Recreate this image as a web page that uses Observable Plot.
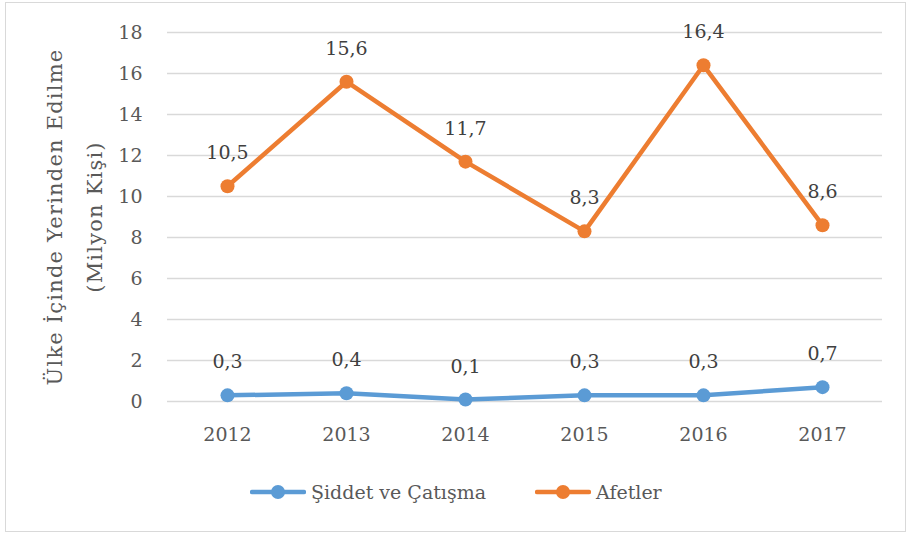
<!DOCTYPE html>
<html><head><meta charset="utf-8">
<script src="https://cdn.jsdelivr.net/npm/d3@7"></script>
<script src="https://cdn.jsdelivr.net/npm/@observablehq/plot@0.6"></script>
<style>
body{margin:0;background:#fff;width:908px;height:534px;overflow:hidden;}
#frame{position:absolute;left:5px;top:2px;width:901px;height:530px;border:1px solid #d9d9d9;box-sizing:border-box;}
#chart{position:absolute;left:0;top:0;}
#legend{position:absolute;left:0;top:476px;width:908px;height:32px;font-family:'DejaVu Serif',serif;font-size:19px;color:#595959;}
.item{position:absolute;top:0;display:flex;align-items:center;height:32px;}
.item svg{margin-right:5px;}
</style></head>
<body>
<div id="frame"></div>
<div id="chart"></div>
<div id="legend"></div>
<script>
const years = ["2012","2013","2014","2015","2016","2017"];
const siddetCatisma = [0.3,0.4,0.1,0.3,0.3,0.7];
const afetler = [10.5,15.6,11.7,8.3,16.4,8.6];
const seriesNames = ["Şiddet ve Çatışma","Afetler"];
const seriesColors = ["#5B9BD5","#ED7D31"];
const yTicks = [0,2,4,6,8,10,12,14,16,18];
const yTitle = ["Ülke İçinde Yerinden Edilme","(Milyon Kişi)"];

const data = [
  ...years.map((y,i)=>({year:y,value:siddetCatisma[i],series:seriesNames[0]})),
  ...years.map((y,i)=>({year:y,value:afetler[i],series:seriesNames[1]}))
];
const fmt = v => String(v).replace(".", ",");
const FONT = "'DejaVu Serif', serif";

const chart = Plot.plot({
  width:908, height:460,
  marginLeft:167, marginRight:26, marginTop:32, marginBottom:59,
  style:{fontFamily:FONT, fontSize:"19px", color:"#595959", background:"transparent", overflow:"visible"},
  x:{type:"point", domain:years, padding:0.5},
  y:{domain:[0,18]},
  color:{domain:seriesNames, range:seriesColors},
  marks:[
    Plot.gridY(yTicks,{stroke:"#d9d9d9", strokeOpacity:1, strokeWidth:1.3}),
    Plot.axisY(yTicks,{tickSize:0, tickPadding:25, label:null, tickFormat:d=>String(d), fill:"#595959", fontSize:19}),
    Plot.axisX({tickSize:0, tickPadding:26, label:null, fill:"#595959", fontSize:19}),
    Plot.text([yTitle[0]],{text:d=>d, frameAnchor:"left", textAnchor:"middle", lineAnchor:"middle", rotate:-90, dx:-112, fill:"#595959", fontSize:21, fontFamily:FONT}),
    Plot.text([yTitle[1]],{text:d=>d, frameAnchor:"left", textAnchor:"middle", lineAnchor:"middle", rotate:-90, dx:-72, fill:"#595959", fontSize:21, fontFamily:FONT}),
    Plot.line(data,{x:"year", y:"value", z:"series", stroke:"series", strokeWidth:4.5, strokeLinejoin:"round", strokeLinecap:"round"}),
    Plot.dot(data,{x:"year", y:"value", fill:"series", r:7, stroke:"none"}),
    Plot.text(data,{x:"year", y:"value", text:d=>fmt(d.value), dy:-33, fill:"#404040", fontSize:19, fontFamily:FONT})
  ]
});
document.getElementById("chart").appendChild(chart);
d3.select(chart).selectAll("text").filter(function(){ return yTitle.includes(this.textContent); })
  .style("letter-spacing", "1.2px");

const legend = document.getElementById("legend");
const lefts = [250, 535];
seriesNames.forEach((name,i)=>{
  const item = document.createElement("div");
  item.className = "item";
  item.style.left = lefts[i] + "px";
  item.innerHTML = `<svg width="56" height="16"><line x1="2" y1="8" x2="54" y2="8" stroke="${seriesColors[i]}" stroke-width="4.5" stroke-linecap="round"/><circle cx="28" cy="8" r="7" fill="${seriesColors[i]}"/></svg><span>${name}</span>`;
  legend.appendChild(item);
});
</script>
</body></html>
